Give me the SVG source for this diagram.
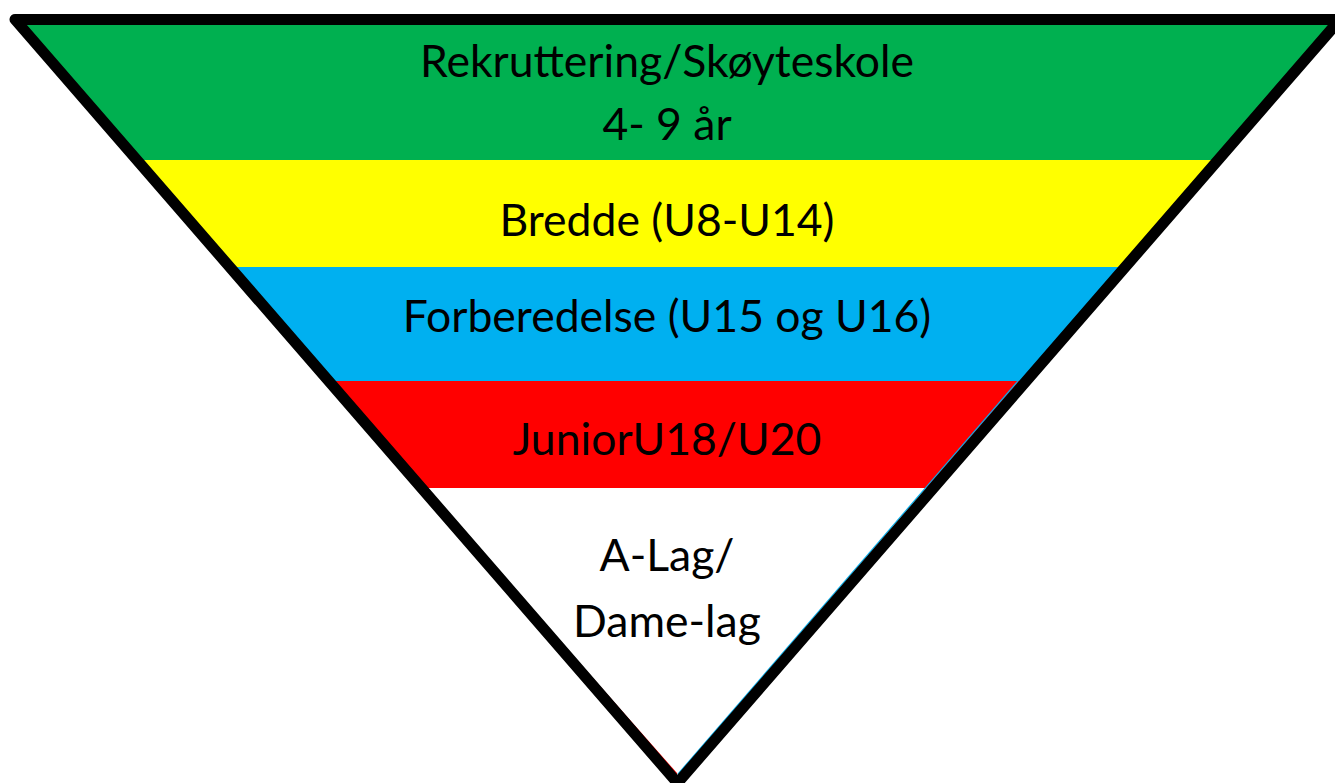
<svg xmlns="http://www.w3.org/2000/svg" width="1335" height="783" viewBox="0 0 1335 783">
<style>
.t{font-family:Lato,"Open Sans","Liberation Sans",sans-serif;font-size:44.5px;fill:#000;text-anchor:middle}
</style>
<defs>
<clipPath id="tri"><polygon points="15,19.5 1340,19.5 677.5,783"/></clipPath>
</defs>
<rect width="1335" height="783" fill="#fff"/>
<g clip-path="url(#tri)">
<g id="band-green"><rect x="0" y="0" width="1335" height="160" fill="#00b050"/></g>
<g id="band-yellow"><rect x="0" y="160" width="1335" height="107" fill="#ffff00"/></g>
<g id="band-blue"><rect x="0" y="267" width="1335" height="114" fill="#00b0f0"/></g>
<g id="band-red"><rect x="0" y="381" width="1335" height="107" fill="#ff0000"/></g>
</g>
<g id="fringes" stroke-width="1.2" fill="none">
<line x1="424" y1="488" x2="677" y2="774" stroke="#ff0000"/>
<line x1="1018" y1="381" x2="678" y2="774" stroke="#00b0f0"/>
</g>
<g id="outline"><polygon points="15,19.5 1340,19.5 677.5,783" fill="none" stroke="#000" stroke-width="11" stroke-linejoin="round"/></g>
<g id="labels">
<text class="t" x="667" y="77">Rekruttering/Skøyteskole</text>
<text class="t" x="667" y="140">4- 9 år</text>
<text class="t" x="667" y="236">Bredde (U8-U14)</text>
<text class="t" x="667" y="332">Forberedelse (U15 og U16)</text>
<text class="t" x="667" y="455">JuniorU18/U20</text>
<text class="t" x="667" y="571">A-Lag/</text>
<text class="t" x="667" y="637">Dame-lag</text>
</g>
</svg>
